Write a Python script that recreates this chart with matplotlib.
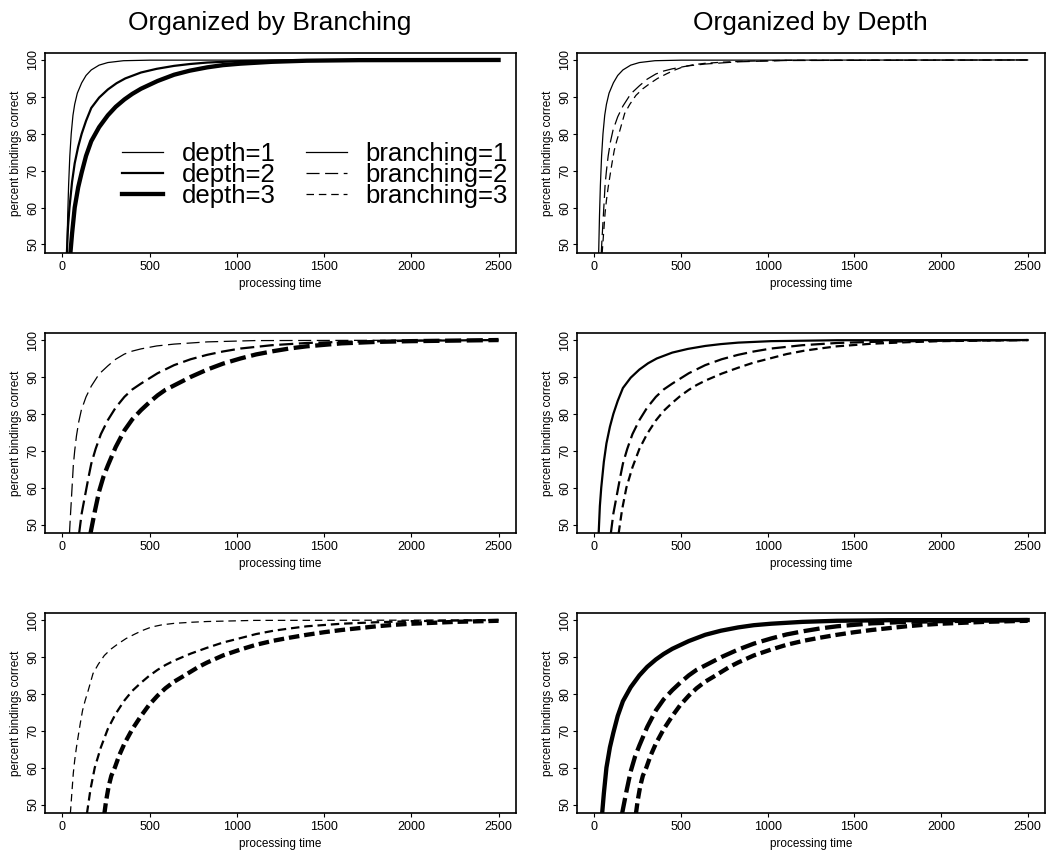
import matplotlib
matplotlib.use('Agg')
import matplotlib.pyplot as plt
from matplotlib.lines import Line2D

plt.rcParams['font.family'] = ['Liberation Sans', 'DejaVu Sans']
plt.rcParams['lines.scale_dashes'] = False

# ── DATA ───────────────────────────────────────────────────
# branching=1
time_b1_d1 = [25, 30, 35, 42, 50, 60, 70, 85, 110, 135, 165, 210, 260, 350, 500, 2500]
pct_b1_d1  = [47.5, 58, 66, 74, 80, 85, 88, 91, 93.8, 95.8, 97.3, 98.6, 99.3, 99.8, 99.95, 100]
time_b1_d2 = [25, 32, 40, 55, 70, 90, 110, 135, 165, 210, 260, 310, 360, 450, 540, 640, 730,
              830, 1020, 1400, 2500]
pct_b1_d2  = [47.5, 55, 60, 67, 72, 76.5, 80, 83.5, 87, 89.8, 92, 93.7, 95, 96.6, 97.6, 98.4, 98.9,
              99.3, 99.7, 99.95, 100]
time_b1_d3 = [45, 55, 70, 90, 110, 135, 165, 210, 260, 305, 355, 400, 450, 545, 640, 730, 830,
              920, 1020, 1200, 1400, 1700, 2500]
pct_b1_d3  = [47.5, 53, 60, 65.5, 69.5, 74, 78, 81.8, 85, 87.3, 89.3, 90.8, 92.2, 94.3, 96, 97.1, 98,
              98.6, 99, 99.5, 99.8, 99.95, 100]
# branching=2
time_b2_d1 = [40, 45, 50, 56, 62, 70, 80, 93, 108, 135, 165, 210, 260, 305, 355, 400, 450, 540,
              640, 830, 1100, 2500]
pct_b2_d1  = [47.5, 52, 56, 61, 66, 70, 74, 77.8, 81, 84.6, 87.5, 90.8, 93, 94.8, 96.2, 97, 97.6, 98.4,
              98.9, 99.5, 99.85, 100]
time_b2_d2 = [95, 110, 130, 150, 165, 190, 220, 260, 305, 355, 400, 450, 545, 640, 735, 830, 920,
              1020, 1200, 1400, 1600, 2000, 2500]
pct_b2_d2  = [47.5, 53, 58, 63, 66.5, 70.5, 74.5, 78.3, 81.7, 84.6, 86.6, 88.2, 91, 93.2, 94.8, 96, 96.9,
              97.7, 98.6, 99.2, 99.5, 99.8, 100]
time_b2_d3 = [160, 185, 210, 235, 260, 305, 355, 400, 450, 500, 545, 590, 640, 735, 830, 920, 1020,
              1110, 1210, 1300, 1400, 1600, 1800, 2000, 2500]
pct_b2_d3  = [47.5, 53.5, 59, 63, 66, 71, 75.5, 78.5, 81, 83.2, 85, 86.5, 87.7, 90, 92, 93.6, 95,
              96.1, 97, 97.7, 98.3, 99.1, 99.5, 99.7, 100]
# branching=3
time_b3_d1 = [45, 55, 62, 70, 80, 90, 102, 115, 130, 145, 160, 175, 205, 240, 280, 320, 365, 415,
              460, 510, 570, 640, 740, 830, 1100, 2500]
pct_b3_d1  = [47.5, 54, 58.5, 62, 65.5, 68.5, 72, 75.5, 78.2, 80.5, 83, 85.5, 88, 90.4, 92.2, 93.6, 95,
              96.2, 97.2, 98.1, 98.7, 99.1, 99.4, 99.6, 99.9, 100]
time_b3_d2 = [140, 160, 185, 220, 260, 305, 355, 400, 450, 495, 545, 590, 640, 735, 830, 920, 1020,
              1110, 1210, 1300, 1400, 1600, 1800, 2000, 2500]
pct_b3_d2  = [47.5, 54, 60, 65.5, 70.5, 74.6, 78.2, 80.8, 83, 84.8, 86.5, 87.8, 89, 90.9, 92.5, 93.9,
              95.1, 96.2, 97.1, 97.7, 98.3, 99, 99.4, 99.7, 100]
time_b3_d3 = [240, 250, 265, 280, 300, 325, 355, 400, 450, 495, 545, 590, 640, 690, 735, 780, 830,
              920, 1020, 1110, 1210, 1300, 1400, 1500, 1600, 1700, 1800, 1900, 2000, 2250, 2500]
pct_b3_d3  = [47.5, 51, 55, 57.8, 60, 63.3, 66.5, 70.4, 74, 76.9, 79.5, 81.5, 83.3, 84.7, 86, 87.3,
              88.5, 90.4, 92, 93.3, 94.4, 95.2, 96, 96.7, 97.3, 97.8, 98.3, 98.7, 99, 99.5, 99.8]

curves = {
    (1, 1): (time_b1_d1, pct_b1_d1), (1, 2): (time_b1_d2, pct_b1_d2), (1, 3): (time_b1_d3, pct_b1_d3),
    (2, 1): (time_b2_d1, pct_b2_d1), (2, 2): (time_b2_d2, pct_b2_d2), (2, 3): (time_b2_d3, pct_b2_d3),
    (3, 1): (time_b3_d1, pct_b3_d1), (3, 2): (time_b3_d2, pct_b3_d2), (3, 3): (time_b3_d3, pct_b3_d3),
}

x_ticks = [0, 500, 1000, 1500, 2000, 2500]
y_ticks = [50, 60, 70, 80, 90, 100]

# ── STYLE ──────────────────────────────────────────────────
depth_lw   = {1: 0.9, 2: 1.6, 3: 3.1}
base_dash  = {1: None, 2: (8.5, 4.0), 3: (4.5, 3.5)}

def style(b, d):
    lw = depth_lw[d]
    if base_dash[b] is None:
        return dict(lw=lw, ls='-')
    on, off = base_dash[b]
    return dict(lw=lw, ls=(0, (on + lw, off)), dash_capstyle='butt')

def setup(ax):
    ax.set_xlim(-100, 2600)
    ax.set_ylim(47.7, 101.9)
    ax.set_xticks(x_ticks)
    ax.set_yticks(y_ticks)
    ax.set_xticklabels([str(t) for t in x_ticks])
    ax.set_yticklabels([str(t) for t in y_ticks], rotation=90, va='center')
    ax.tick_params(direction='out', length=3, width=0.8, labelsize=9, pad=1.2)
    ax.tick_params(axis='x', pad=2.5)
    for s in ax.spines.values():
        s.set_linewidth(1.2)
    ax.set_xlabel('processing time', fontsize=8.5)
    ax.set_ylabel('percent bindings correct', fontsize=8.5)
    ax.xaxis.set_label_coords(0.5, -0.125)
    ax.yaxis.set_label_coords(-0.05, 0.5)

fig = plt.figure(figsize=(10.55, 8.5), dpi=100)
fig.patch.set_facecolor('white')

col_x = [0.0427, 0.5469]
col_w = [0.4464, 0.4436]
row_y = [0.7024, 0.3729, 0.0435]
row_h = 0.2353

for r in range(3):
    # left column: one branching level, three depths
    axl = fig.add_axes([col_x[0], row_y[r], col_w[0], row_h])
    b = r + 1
    for d in (1, 2, 3):
        t, p = curves[(b, d)]
        axl.plot(t, p, color='black', **style(b, d))
    setup(axl)

    # right column: one depth, three branching levels
    axr = fig.add_axes([col_x[1], row_y[r], col_w[1], row_h])
    d = r + 1
    for b in (1, 2, 3):
        t, p = curves[(b, d)]
        axr.plot(t, p, color='black', **style(b, d))
    setup(axr)

    if r == 0:
        handles = [Line2D([], [], color='black', **style(1, 1)),
                   Line2D([], [], color='black', **style(1, 2)),
                   Line2D([], [], color='black', **style(1, 3)),
                   Line2D([], [], color='black', **style(1, 1)),
                   Line2D([], [], color='black', **style(2, 1)),
                   Line2D([], [], color='black', **style(3, 1))]
        labels = ['depth=1', 'depth=2', 'depth=3',
                  'branching=1', 'branching=2', 'branching=3']
        axl.legend(handles, labels, ncol=2, frameon=False, fontsize=18.5,
                   loc='center left', bbox_to_anchor=(0.163, 0.39),
                   borderpad=0, borderaxespad=0, labelspacing=-0.13,
                   handlelength=1.6, handletextpad=0.72, columnspacing=1.2)

fig.text(270 / 1055, 1 - 23 / 850, 'Organized by Branching', fontsize=19,
         ha='center', va='center')
fig.text(810 / 1055, 1 - 23 / 850, 'Organized by Depth', fontsize=19,
         ha='center', va='center')

fig.savefig('out.png', dpi=100, facecolor='white')
